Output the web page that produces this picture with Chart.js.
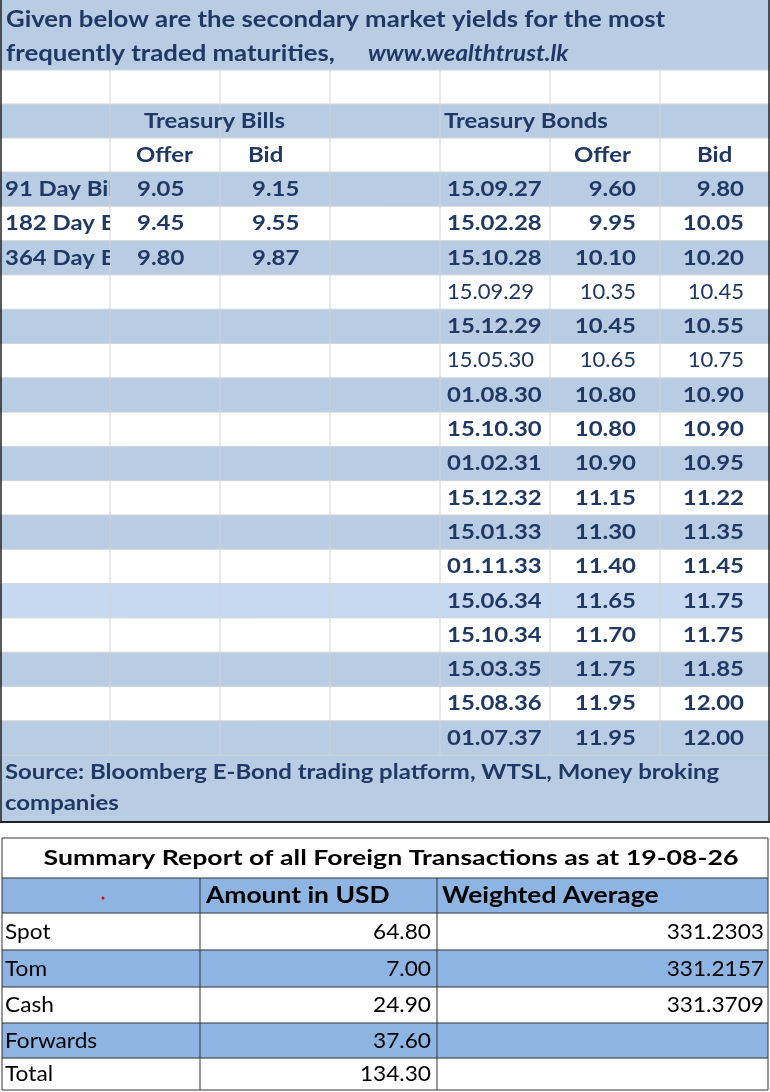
<!DOCTYPE html>
<html><head><meta charset="utf-8">
<script src="https://cdn.jsdelivr.net/npm/chart.js@4"></script>
<style>html,body{margin:0;padding:0;background:#fff}#w{width:770px;height:1092px}</style>
</head><body><div id="w"><canvas id="c"></canvas></div>
<script>
const titleLines = ["Given below are the secondary market yields for the most", "frequently traded maturities,"];
const siteText = "www.wealthtrust.lk";
const billNames = ["91 Day Bill", "182 Day Bi", "364 Day Bi"];
const billOffer = ["9.05", "9.45", "9.80"];
const billBid = ["9.15", "9.55", "9.87"];
const bondDates = ["15.09.27","15.02.28","15.10.28","15.09.29","15.12.29","15.05.30","01.08.30","15.10.30","01.02.31","15.12.32","15.01.33","01.11.33","15.06.34","15.10.34","15.03.35","15.08.36","01.07.37"];
const bondOffer = ["9.60","9.95","10.10","10.35","10.45","10.65","10.80","10.80","10.90","11.15","11.30","11.40","11.65","11.70","11.75","11.95","11.95"];
const bondBid = ["9.80","10.05","10.20","10.45","10.55","10.75","10.90","10.90","10.95","11.22","11.35","11.45","11.75","11.75","11.85","12.00","12.00"];
const bondBold = [1,1,1,0,1,0,1,1,1,1,1,1,1,1,1,1,1];
const sourceLines = ["Source: Bloomberg E-Bond trading platform, WTSL, Money broking", "companies"];
const fxTitle = "Summary Report of all Foreign Transactions as at 19-08-26";
const fxHeaders = ["Amount in USD", "Weighted Average"];
const fxTypes = ["Spot", "Tom", "Cash", "Forwards", "Total"];
const fxAmount = ["64.80", "7.00", "24.90", "37.60", "134.30"];
const fxAvg = ["331.2303", "331.2157", "331.3709", "", ""];

const F = "Lato, 'Open Sans', sans-serif";
const NAVY = "#1f3864", SH = "#b8cce4", SH2 = "#c6d9f1", FXSH = "#8db4e2";

const tablePlugin = {
  id: 'tbl',
  afterDraw(chart) {
    const c = chart.ctx, xs = chart.scales.x, ys = chart.scales.y;
    const X = v => xs.getPixelForValue(v), Y = v => ys.getPixelForValue(v);
    const rect = (x0,y0,x1,y1,col) => { c.fillStyle = col; c.fillRect(X(x0),Y(y0),X(x1)-X(x0),Y(y1)-Y(y0)); };
    const line = (x0,y0,x1,y1,col,w) => { c.strokeStyle = col; c.lineWidth = w||1; c.beginPath(); c.moveTo(X(x0),Y(y0)); c.lineTo(X(x1),Y(y1)); c.stroke(); };
    const txt = (s,x,y,al,bold,col,size,sx,it) => {
      c.save(); c.font = (it?"italic ":"")+(bold?"bold ":"")+size+"px "+F; c.fillStyle = col; c.textAlign = al; c.textBaseline = "middle";
      c.translate(X(x),Y(y)); c.scale(sx,1); c.fillText(s,0,0); c.restore(); };
    const tb = (s,x,y,al,b) => b ? txt(s,x,y,al||"left",true,NAVY,21,1.14) : txt(s,x,y,al||"left",false,NAVY,21,1.05);
    const fb = (s,x,y,al,b) => b ? txt(s,x,y,al||"left",true,"#000",22,1.2) : txt(s,x,y,al||"left",false,"#000",22,1.03);
    const cols = [0,110,220,330,440,550,660,770];
    const rowH = 34.3, r0 = 172;
    rect(0,0,770,70,SH);
    rect(0,104,770,138,SH);
    for (let i=0;i<bondDates.length;i++){
      const y0 = r0+i*rowH;
      if (i%2===0) rect(0,y0,770,y0+rowH, i===12?SH2:SH);
    }
    rect(0,r0+bondDates.length*rowH,770,822,SH);
    const gy = [70,104,138];
    for (let i=0;i<=bondDates.length;i++) gy.push(r0+i*rowH);
    gy.forEach(y=>line(0,y,770,y,"#d4d4d4",1));
    cols.slice(1,-1).forEach(x=>line(x,70,x,r0+bondDates.length*rowH,"#d4d4d4",1));
    line(0,822,770,822,"#222",2); line(1,0,1,822,"#222",1.5); line(769,0,769,822,"#222",1.5);
    txt(titleLines[0],6,20,"left",true,NAVY,22,1.17);
    txt(titleLines[1],6,54,"left",true,NAVY,22,1.17);
    txt(siteText,368,54,"left",true,NAVY,22,1.1,true);
    tb("Treasury Bills",144,121,"left",1);
    tb("Treasury Bonds",444,121,"left",1);
    tb("Offer",136,155,"left",1); tb("Bid",248,155,"left",1);
    tb("Offer",574,155,"left",1); tb("Bid",697,155,"left",1);
    for (let i=0;i<billNames.length;i++){
      const ym = r0+i*rowH+rowH/2;
      c.save(); c.beginPath(); c.rect(X(0),Y(ym-17),X(110)-X(0),Y(34)-Y(0)); c.clip();
      tb(billNames[i],5,ym,"left",1); c.restore();
      tb(billOffer[i],137,ym,"left",1); tb(billBid[i],252,ym,"left",1);
    }
    for (let i=0;i<bondDates.length;i++){
      const ym = r0+i*rowH+rowH/2, b = !!bondBold[i];
      tb(bondDates[i],447,ym,"left",b); tb(bondOffer[i],636,ym,"right",b); tb(bondBid[i],744,ym,"right",b);
    }
    tb(sourceLines[0],5,772,"left",1); tb(sourceLines[1],5,803,"left",1);
    const fc = [2,200,437,768], fr = [838,878,913,950,987,1023,1058,1090];
    rect(2,fr[1],768,fr[2],FXSH);
    rect(2,fr[3],768,fr[4],FXSH);
    rect(2,fr[5],768,fr[6],FXSH);
    fr.forEach(y=>line(2,y,768,y,"#333",1));
    line(2,838,2,1090,"#333",1); line(768,838,768,1090,"#333",1);
    fc.slice(1,-1).forEach(x=>line(x,878,x,1090,"#333",1));
    txt(fxTitle,391,858,"center",true,"#000",21,1.27);
    fb(fxHeaders[0],206,896,"left",1);
    fb(fxHeaders[1],442,896,"left",1);
    c.fillStyle="#e00"; c.beginPath(); c.arc(X(103),Y(898),1.5,0,7); c.fill();
    for (let i=0;i<fxTypes.length;i++){
      const ym=(fr[i+2]+fr[i+3])/2;
      fb(fxTypes[i],5,ym,"left",0);
      fb(fxAmount[i],431,ym,"right",0);
      if (fxAvg[i]) fb(fxAvg[i],764,ym,"right",0);
    }
  }
};

new Chart(document.getElementById('c'), {
  type: 'scatter',
  data: { datasets: [{ data: [] }] },
  options: {
    responsive: true, maintainAspectRatio: false, animation: false,
    layout: { padding: 0 },
    plugins: { legend: { display: false }, tooltip: { enabled: false } },
    scales: {
      x: { type: 'linear', min: 0, max: 770, display: false },
      y: { type: 'linear', min: 0, max: 1092, reverse: true, display: false }
    }
  },
  plugins: [tablePlugin]
});
</script></body></html>
